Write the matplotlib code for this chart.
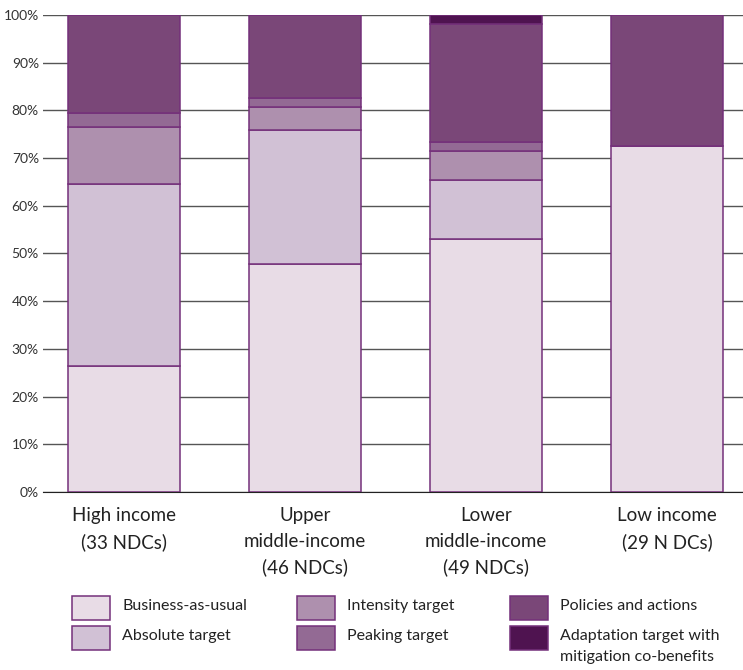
import matplotlib
matplotlib.use("Agg")
import matplotlib.pyplot as plt
from matplotlib.patches import Rectangle

plt.rcParams['font.family'] = ['Lato', 'DejaVu Sans']

groups = ["High income\n(33 NDCs)", "Upper\nmiddle-income\n(46 NDCs)",
          "Lower\nmiddle-income\n(49 NDCs)", "Low income\n(29 N DCs)"]
series = ["Business-as-usual", "Absolute target", "Intensity target",
          "Peaking target", "Policies and actions",
          "Adaptation target with\nmitigation co-benefits"]
bau = [26.4, 47.8, 53.0, 72.5]
absolute = [38.2, 28.1, 12.4, 0.0]
intensity = [11.9, 4.8, 6.1, 0.0]
peaking = [3.0, 1.9, 1.9, 0.0]
policies = [20.5, 17.4, 24.7, 27.5]
adaptation = [0.0, 0.0, 1.9, 0.0]
values = [bau, absolute, intensity, peaking, policies, adaptation]
colors = ["#e8dce6", "#d1c1d5", "#ae90ae", "#936a94", "#7a4778", "#4f1350"]
edge = "#74307a"

fig = plt.figure(figsize=(7.43, 6.70), dpi=100)
ax = fig.add_axes([0.058, 0.2657, 0.942, 0.712])

x = list(range(len(groups)))
bottom = [0.0] * len(groups)
for vals, c in zip(values, colors):
    ax.bar(x, vals, width=0.62, bottom=bottom, color=c, edgecolor=edge,
           linewidth=1.1, zorder=3)
    bottom = [b + v for b, v in zip(bottom, vals)]

ax.set_ylim(0, 100)
ax.set_xlim(-0.447, 3.42)
ax.set_yticks(range(0, 101, 10))
ax.set_yticklabels([f"{t}%" for t in range(0, 101, 10)], fontsize=10, color="#333333")
ax.yaxis.grid(True, color="#555555", linewidth=1.0, zorder=0)
ax.set_axisbelow(True)
ax.tick_params(axis='y', length=0, pad=3)
ax.tick_params(axis='x', length=0, pad=11)
ax.set_xticks(x)
ax.set_xticklabels(groups, fontsize=13.5, color="#222222", linespacing=1.6)
for s in ["left", "right", "top"]:
    ax.spines[s].set_visible(False)
ax.spines["bottom"].set_color("#222222")

# legend, drawn by hand in figure pixels
W, H = 743, 670
col_x = [72, 297, 510]
row_y = [608, 638]
for i, (name, c) in enumerate(zip(series, colors)):
    cx = col_x[i // 2]
    cy = row_y[i % 2]
    fig.add_artist(Rectangle((cx / W, 1 - (cy + 12) / H), 38 / W, 24 / H,
                             transform=fig.transFigure, facecolor=c,
                             edgecolor=edge, linewidth=1.1))
    fig.text((cx + 50) / W, 1 - (cy - 9) / H, name, fontsize=11.5,
             color="#222222", va="top", ha="left", linespacing=1.65)

fig.savefig("out.png", dpi=100)
